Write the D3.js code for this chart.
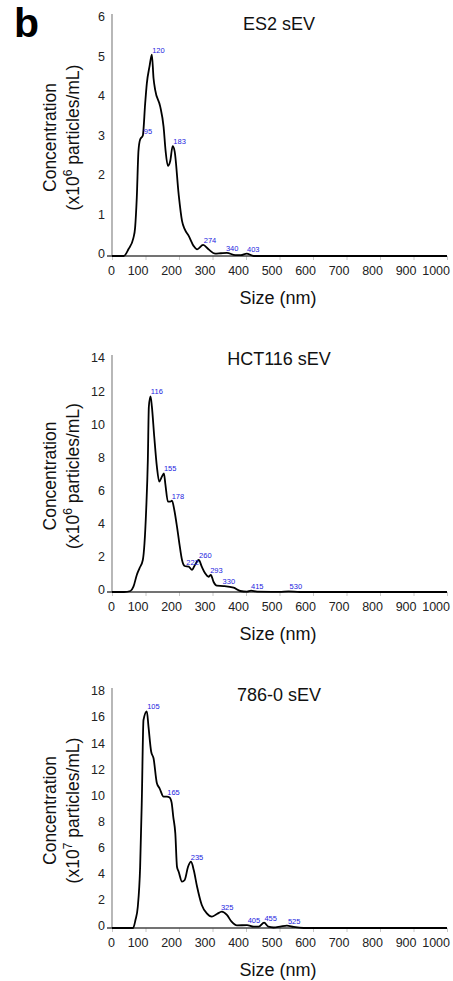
<!DOCTYPE html>
<html>
<head>
<meta charset="utf-8">
<script src="https://cdn.jsdelivr.net/npm/d3@7"></script>
<style>
	body { margin: 0; background: #fff; }
	svg { display: block; font-family: 'Liberation Sans', Arial, sans-serif; }
</style>
</head>
<body>
<script>
// data
var xTicks = [0, 100, 200, 300, 400, 500, 600, 700, 800, 900, 1000];

// ES2 sEV (x10^6 particles/mL)
var es2Size = [0, 35, 49, 64, 69, 74, 79, 84, 92, 99, 104, 112, 119, 124, 129, 144, 154, 160, 167, 174, 181, 187, 199, 209, 217, 229, 244, 254, 272, 288, 308, 325, 343, 368, 385, 402, 423, 1000];
var es2Conc = [0, 0, 0.17, 0.46, 0.72, 1.48, 2.66, 2.95, 3.05, 3.86, 4.37, 4.8, 5.1, 4.5, 4.2, 3.78, 3.27, 2.66, 2.28, 2.41, 2.78, 2.65, 1.56, 0.89, 0.68, 0.51, 0.25, 0.17, 0.28, 0.17, 0.06, 0.07, 0.08, 0.02, 0.02, 0.06, 0, 0];
var es2Ticks = [0, 1, 2, 3, 4, 5, 6];
var es2Peaks = ['95', '120', '183', '274', '340', '403'];
var es2PeakSize = [95, 120, 183, 274, 340, 403];
var es2PeakConc = [3.05, 5.1, 2.78, 0.28, 0.08, 0.06];

// HCT116 sEV (x10^6 particles/mL)
var hctSize = [0, 36, 55, 64, 74, 82, 92, 97, 102, 107, 110, 115, 119, 126, 134, 141, 149, 155, 159, 167, 174, 179, 186, 194, 201, 209, 217, 229, 239, 246, 259, 268, 278, 288, 295, 303, 313, 333, 363, 383, 403, 415, 433, 500, 527, 560, 1000];
var hctConc = [0, 0, 0.06, 0.32, 1.03, 1.43, 1.93, 2.94, 4.95, 7.97, 11.18, 11.8, 11.2, 9.4, 7.56, 6.66, 6.96, 7.16, 6.56, 5.45, 5.45, 5.51, 4.95, 3.94, 2.94, 1.93, 1.57, 1.53, 1.33, 1.57, 1.93, 1.53, 1.13, 0.92, 1.03, 0.62, 0.38, 0.36, 0.26, 0.06, 0.02, 0.08, 0.02, 0.01, 0.04, 0, 0];
var hctTicks = [0, 2, 4, 6, 8, 10, 12, 14];
var hctPeaks = ['116', '155', '178', '222', '260', '293', '330', '415', '530'];
var hctPeakSize = [116, 155, 178, 222, 260, 293, 330, 415, 530];
var hctPeakConc = [11.8, 7.16, 5.51, 1.53, 1.93, 1.03, 0.36, 0.08, 0.04];

// 786-0 sEV (x10^7 particles/mL)
var rccSize = [0, 63, 70, 77, 84, 89, 94, 104, 109, 117, 124, 134, 142, 154, 164, 172, 178, 183, 189, 194, 199, 209, 217, 227, 236, 244, 254, 268, 283, 298, 313, 328, 343, 357, 373, 403, 423, 438, 454, 467, 482, 502, 522, 542, 572, 1000];
var rccConc = [0, 0, 0.61, 1.63, 4.69, 9.8, 15.93, 16.6, 15.4, 13.5, 13, 11.08, 10.7, 10.06, 10.06, 10.0, 9.6, 8.5, 7.25, 4.69, 4.31, 3.55, 3.68, 4.69, 5.08, 4.44, 3.16, 1.76, 1.12, 0.87, 1.07, 1.25, 1.0, 0.48, 0.2, 0.22, 0.1, 0.1, 0.41, 0.1, 0.04, 0.1, 0.18, 0.08, 0, 0];
var rccTicks = [0, 2, 4, 6, 8, 10, 12, 14, 16, 18];
var rccPeaks = ['105', '165', '235', '325', '405', '455', '525'];
var rccPeakSize = [105, 165, 235, 325, 405, 455, 525];
var rccPeakConc = [16.6, 10.06, 5.08, 1.25, 0.22, 0.41, 0.18];

// chart
var width = 453, height = 981;

var svg = d3.select('body')
	.append('svg')
	.attr('width', width)
	.attr('height', height);

svg.append('text')
	.attr('x', 14)
	.attr('y', 37)
	.attr('font-size', 41)
	.attr('font-weight', 'bold')
	.attr('fill', '#000')
	.text('b');

var x = d3.scaleLinear().domain([0, 1000]).range([112, 447]);

var panels = [
	{ title: 'ES2 sEV', exp: '6', size: es2Size, conc: es2Conc, ticks: es2Ticks, peaks: es2Peaks, peakSize: es2PeakSize, peakConc: es2PeakConc, top: 19, base: 256, titleY: 30 },
	{ title: 'HCT116 sEV', exp: '6', size: hctSize, conc: hctConc, ticks: hctTicks, peaks: hctPeaks, peakSize: hctPeakSize, peakConc: hctPeakConc, top: 360, base: 592, titleY: 365 },
	{ title: '786-0 sEV', exp: '7', size: rccSize, conc: rccConc, ticks: rccTicks, peaks: rccPeaks, peakSize: rccPeakSize, peakConc: rccPeakConc, top: 693, base: 928, titleY: 701 },
];

panels.forEach(function (p) {
	var y = d3.scaleLinear()
		.domain([0, d3.max(p.ticks)])
		.range([p.base, p.top]);

	var g = svg.append('g');

	// y axis
	var yAxis = g.append('g')
		.attr('transform', 'translate(112,0)')
		.call(d3.axisLeft(y).tickValues(p.ticks).tickFormat(d3.format('d')).tickSize(0).tickPadding(7));
	yAxis.select('.domain').remove();
	yAxis.selectAll('text')
		.attr('dy', '0.15em')
		.attr('font-size', 12.5)
		.attr('font-family', "'Liberation Sans', Arial, sans-serif")
		.attr('fill', '#222');
	g.append('line')
		.attr('x1', 112).attr('x2', 112)
		.attr('y1', p.base).attr('y2', p.top - 5)
		.attr('stroke', '#888')
		.attr('stroke-width', 1.2);

	// x axis (labels sit just left of their tick, as in the original export)
	var xAxis = g.append('g')
		.attr('transform', 'translate(0,' + p.base + ')')
		.call(d3.axisBottom(x).tickValues(xTicks).tickFormat(d3.format('d')).tickSize(4).tickPadding(6));
	xAxis.select('.domain').remove();
	xAxis.selectAll('.tick line').attr('stroke', '#c8c8c8');
	xAxis.selectAll('text')
		.attr('text-anchor', 'end')
		.attr('dx', 2.5)
		.attr('font-size', 12.5)
		.attr('font-family', "'Liberation Sans', Arial, sans-serif")
		.attr('fill', '#222');
	g.append('line')
		.attr('x1', 107).attr('x2', 447)
		.attr('y1', p.base).attr('y2', p.base)
		.attr('stroke', '#444')
		.attr('stroke-width', 1.3);

	// curve
	var line = d3.line()
		.x(function (d) { return x(d[0]); })
		.y(function (d) { return y(d[1]); })
		.curve(d3.curveMonotoneX);
	g.append('path')
		.datum(d3.zip(p.size, p.conc))
		.attr('d', line)
		.attr('fill', 'none')
		.attr('stroke', '#000')
		.attr('stroke-width', 1.8)
		.attr('stroke-linejoin', 'round');

	// peak labels
	g.selectAll('.peak')
		.data(d3.range(p.peaks.length))
		.enter()
		.append('text')
		.attr('class', 'peak')
		.attr('x', function (i) { return x(p.peakSize[i]); })
		.attr('y', function (i) { return y(p.peakConc[i]) - 2; })
		.attr('font-size', 7.5)
		.attr('fill', '#2323e0')
		.text(function (i) { return p.peaks[i]; });

	// title
	g.append('text')
		.attr('x', 279)
		.attr('y', p.titleY)
		.attr('text-anchor', 'middle')
		.attr('font-size', 18)
		.attr('fill', '#111')
		.text(p.title);

	// x label
	g.append('text')
		.attr('x', 278)
		.attr('y', p.base + 48)
		.attr('text-anchor', 'middle')
		.attr('font-size', 18)
		.attr('fill', '#111')
		.text('Size (nm)');

	// y label
	var cy = (p.top + p.base) / 2;
	g.append('text')
		.attr('transform', 'translate(56,' + cy + ') rotate(-90)')
		.attr('text-anchor', 'middle')
		.attr('font-size', 17.5)
		.attr('fill', '#111')
		.text('Concentration');
	var t2 = g.append('text')
		.attr('transform', 'translate(79,' + cy + ') rotate(-90)')
		.attr('text-anchor', 'middle')
		.attr('font-size', 17.5)
		.attr('fill', '#111');
	t2.append('tspan').text('(x10');
	t2.append('tspan').attr('dy', -7).attr('font-size', 12).text(p.exp);
	t2.append('tspan').attr('dy', 7).text(' particles/mL)');
});
</script>
</body>
</html>
